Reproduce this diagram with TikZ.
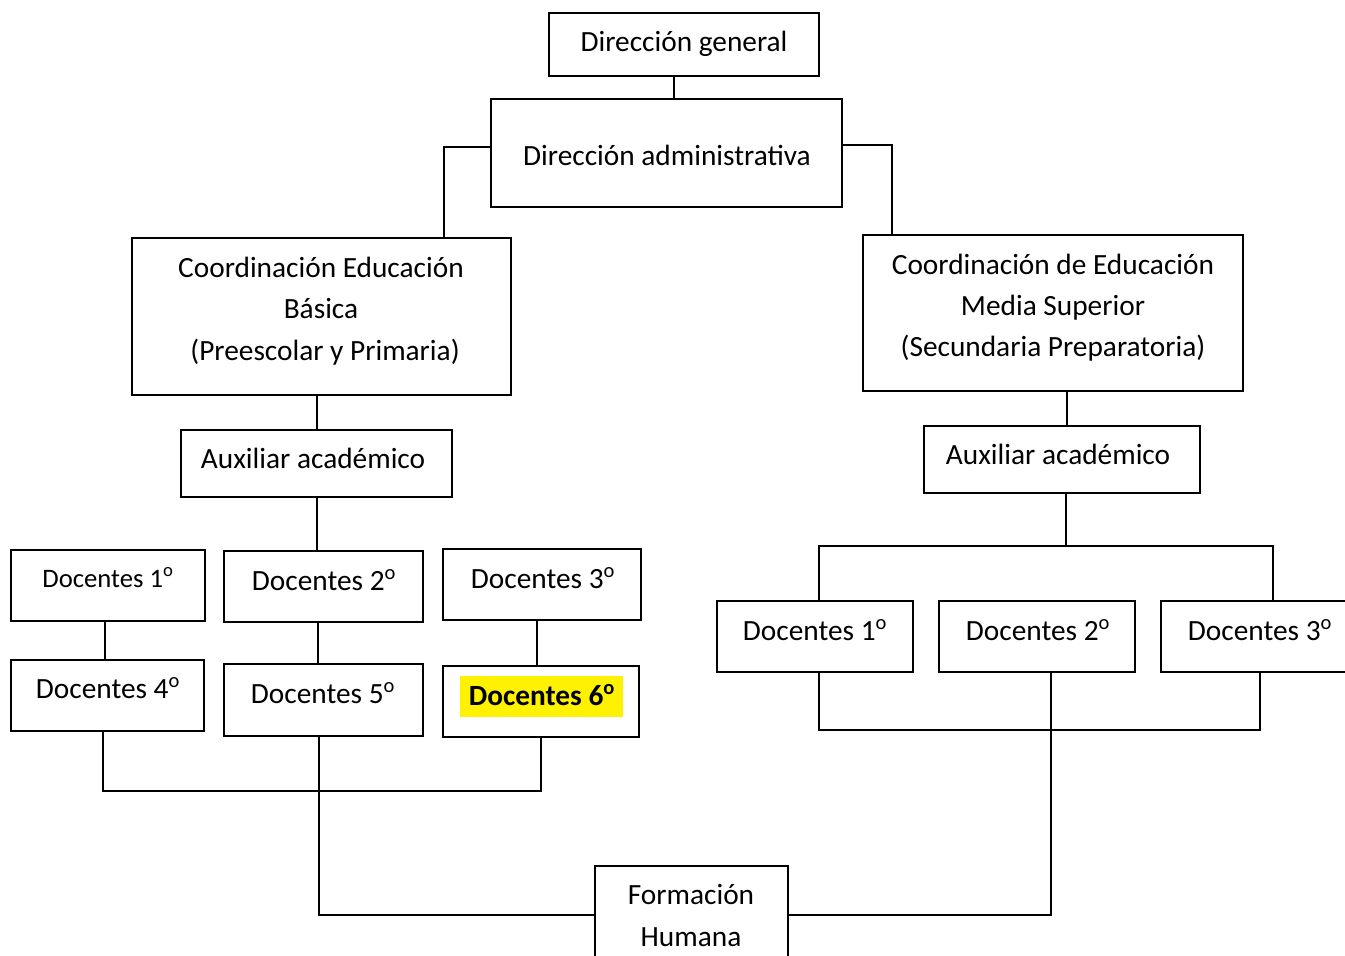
\documentclass[tikz,border=0pt]{standalone}
\usepackage{fontspec}
\setmainfont{Carlito}
\usetikzlibrary{fit}
\begin{document}
\begin{tikzpicture}[x=0.75pt,y=-0.75pt, line width=1.3pt,
  box/.style={draw, inner sep=0pt, line width=1.3pt},
  txt/.style={anchor=base, inner sep=0pt, font=\fontsize{22}{26}\selectfont},
  smalltxt/.style={txt, font=\fontsize{20}{24}\selectfont}]
\useasboundingbox (0,0) rectangle (1345,956);
\clip (0,0) rectangle (1345,956);
\fill[white] (0,0) rectangle (1345,956);
% boxes
\node[box, fit={(549,13)(819,76)}] (dg) {};
\node[box, fit={(491,99)(842,207)}] (da) {};
\node[box, fit={(132,238)(511,395)}] (ceb) {};
\node[box, fit={(863,235)(1243,391)}] (cems) {};
\node[box, fit={(181,430)(452,497)}] (auxl) {};
\node[box, fit={(924,426)(1200,493)}] (auxr) {};
\node[box, fit={(11,550)(205,621)}] (d1l) {};
\node[box, fit={(224,551)(423,622)}] (d2l) {};
\node[box, fit={(443,549)(641,620)}] (d3l) {};
\node[box, fit={(11,660)(204,731)}] (d4l) {};
\node[box, fit={(224,664)(423,736)}] (d5l) {};
\node[box, fit={(443,666)(639,737)}] (d6l) {};
\node[box, fit={(717,601)(913,672)}] (d1r) {};
\node[box, fit={(939,601)(1135,672)}] (d2r) {};
\node[box, fit={(1161,601)(1385,672)}] (d3r) {};
\node[box, fit={(595,866)(788,975)}] (fh) {};
% connectors
\draw ([xshift=-10*0.75pt]dg.south) -- ([xshift=-10*0.75pt]dg.south |- da.north);
\draw ([yshift=6*0.75pt]da.west) -| ([xshift=122.5*0.75pt]ceb.north);
\draw ([yshift=8*0.75pt]da.east) -| ([xshift=-161*0.75pt]cems.north);
\draw ([xshift=-4.5*0.75pt]ceb.south) -- ([xshift=-4.5*0.75pt]ceb.south |- auxl.north);
\draw ([xshift=0.5*0.75pt]auxl.south) -- ([xshift=0.5*0.75pt]auxl.south |- d2l.north);
\draw ([xshift=-3*0.75pt]d1l.south) -- ([xshift=-3*0.75pt]d1l.south |- d4l.north);
\draw ([xshift=-5.5*0.75pt]d2l.south) -- ([xshift=-5.5*0.75pt]d2l.south |- d5l.north);
\draw ([xshift=-5*0.75pt]d3l.south) -- ([xshift=-5*0.75pt]d3l.south |- d6l.north);
\coordinate (busl) at (319,791);
\draw ([xshift=-4.5*0.75pt]d4l.south) |- (busl) -| (d6l.south);
\draw ([xshift=-4.5*0.75pt]d5l.south) |- ([yshift=5.5*0.75pt]fh.west);
\draw ([yshift=5.5*0.75pt]fh.east) -| ([xshift=14*0.75pt]d2r.south);
\draw ([xshift=14*0.75pt]cems.south) -- ([xshift=14*0.75pt]cems.south |- auxr.north);
\coordinate (busr) at (1066,546);
\draw ([xshift=4*0.75pt]auxr.south) -- ([xshift=4*0.75pt]auxr.south |- busr);
\draw ([xshift=4*0.75pt]d1r.north) |- (busr) -| (d3r.north);
\coordinate (busr2) at (1051,730);
\draw ([xshift=4*0.75pt]d1r.south) |- (busr2) -| ([xshift=-13*0.75pt]d3r.south);
% texts
\node[txt] (tdg) at (684,52) {Dirección general};
\node[txt] (tda) at (667,165) {Dirección administrativa};
\node[txt] (tceb1) at (321,277) {Coordinación Educación};
\node[txt] (tceb2) at (321,318) {Básica};
\node[txt] (tceb3) at (325,360) {(Preescolar y Primaria)};
\node[txt] (tcems1) at (1053,274) {Coordinación de Educación};
\node[txt] (tcems2) at (1053,315) {Media Superior};
\node[txt] (tcems3) at (1053,356) {(Secundaria Preparatoria)};
\node[txt] (tauxl) at (313,468) {Auxiliar académico};
\node[txt] (tauxr) at (1058,464) {Auxiliar académico};
\node[smalltxt] (td1l) at (108,587) {Docentes 1\textsuperscript{o}};
\node[txt] (td2l) at (324,590) {Docentes 2\textsuperscript{o}};
\node[txt] (td3l) at (543,588) {Docentes 3\textsuperscript{o}};
\node[txt] (td4l) at (108,698) {Docentes 4\textsuperscript{o}};
\node[txt] (td5l) at (323,703) {Docentes 5\textsuperscript{o}};
\node[fill=yellow, inner sep=0pt, minimum width=163*0.75pt, minimum height=41*0.75pt] (hl) at (541.5,696.5) {};
\node[txt, font=\fontsize{22}{26}\selectfont\bfseries] (td6l) at (542,705) {Docentes 6\textsuperscript{o}};
\node[txt] (td1r) at (815,640) {Docentes 1\textsuperscript{o}};
\node[txt] (td2r) at (1038,640) {Docentes 2\textsuperscript{o}};
\node[txt] (td3r) at (1260,640) {Docentes 3\textsuperscript{o}};
\node[txt] (tfh1) at (691,904) {Formación};
\node[txt] (tfh2) at (691,946) {Humana};
\end{tikzpicture}
\end{document}
